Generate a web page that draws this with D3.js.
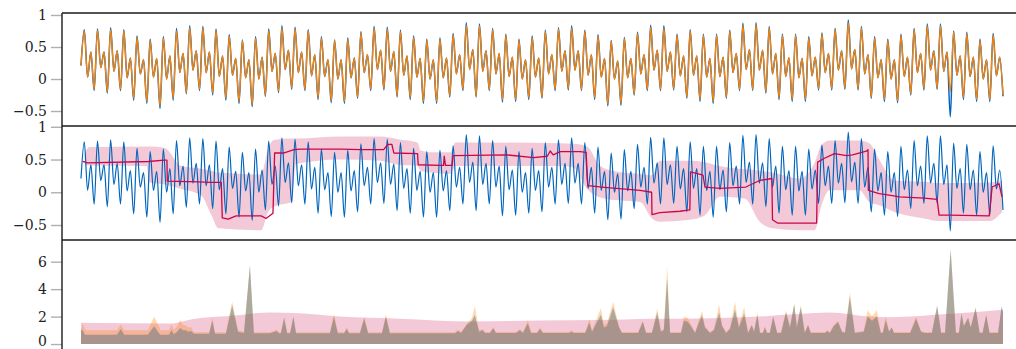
<!DOCTYPE html>
<html>
<head>
<meta charset="utf-8">
<script src="https://cdn.jsdelivr.net/npm/d3@7"></script>
<style>
  body { margin: 0; background: #fff; }
  svg { display: block; }
</style>
</head>
<body>
<svg id="chart" width="1016" height="349"></svg>
<script>
// ---- signal: one quasi-periodic cycle = crest, dip, bump, trough ----
const signalStart = 0.21;
const crest = [0.77,0.78,0.80,0.77,0.67,0.62,0.66,0.79,0.83,0.82,0.78,0.69,0.61,0.66,0.78,0.83,0.81,0.77,0.66,0.61,
  0.64,0.74,0.82,0.81,0.76,0.67,0.62,0.64,0.71,0.88,0.86,0.79,0.70,0.62,0.67,0.76,0.80,0.83,0.76,0.69,0.60,0.65,0.73,0.84,0.83,0.70,
  0.77,0.70,0.70,0.76,0.87,0.88,0.82,0.70,0.70,0.66,0.72,0.79,0.92,0.82,0.66,0.62,0.70,0.79,0.86,0.86,0.75,0.73,0.62,0.71];
const dip = [0.03,0.18,0.12,0.02,0.08,0.03,0.00,0.10,0.14,0.10,0.04,0.06,0.02,0.00,0.12,0.15,0.10,0.05,0.04,0.00,
  0.02,0.10,0.15,0.12,0.06,0.03,0.00,0.02,0.08,0.15,0.12,0.08,0.04,0.00,0.03,0.08,0.12,0.14,0.06,0.03,0.00,0.02,0.08,0.14,0.12,0.05,
  0.06,0.03,0.04,0.10,0.15,0.14,0.08,0.04,0.02,0.05,0.10,0.14,0.16,0.08,0.02,0.00,0.04,0.10,0.14,0.12,0.06,0.04,0.00,0.05];
const bump = [0.42,0.42,0.44,0.33,0.30,0.32,0.36,0.40,0.44,0.42,0.36,0.32,0.30,0.34,0.40,0.45,0.42,0.38,0.30,0.30,
  0.33,0.38,0.45,0.43,0.36,0.32,0.30,0.33,0.38,0.46,0.44,0.40,0.34,0.30,0.33,0.38,0.44,0.44,0.38,0.32,0.28,0.32,0.38,0.45,0.42,0.36,
  0.36,0.32,0.34,0.40,0.46,0.45,0.40,0.33,0.32,0.34,0.40,0.44,0.46,0.38,0.30,0.30,0.34,0.40,0.44,0.42,0.36,0.34,0.30,0.34];
const trough = [-0.18,-0.22,-0.18,-0.33,-0.38,-0.46,-0.33,-0.23,-0.18,-0.25,-0.33,-0.38,-0.43,-0.27,-0.21,-0.16,-0.18,-0.32,-0.37,
  -0.38,-0.30,-0.18,-0.17,-0.28,-0.32,-0.38,-0.38,-0.28,-0.18,-0.28,-0.18,-0.36,-0.35,-0.32,-0.30,-0.18,-0.17,-0.18,-0.32,-0.42,-0.41,-0.25,-0.18,-0.18,-0.17,
  -0.30,-0.35,-0.38,-0.30,-0.18,-0.18,-0.22,-0.32,-0.35,-0.35,-0.17,-0.17,-0.16,-0.17,-0.30,-0.35,-0.37,-0.25,-0.17,-0.16,-0.59,-0.32,-0.35,-0.35,
  -0.27];

// ---- reconstruction of the signal ----
const reconStart = 0.21;
const reconCrest = [0.75,0.76,0.77,0.75,0.65,0.60,0.64,0.75,0.80,0.80,0.76,0.67,0.60,0.64,0.75,0.80,0.79,0.75,0.64,0.60,
  0.62,0.72,0.80,0.78,0.74,0.65,0.60,0.62,0.69,0.84,0.83,0.77,0.68,0.60,0.65,0.74,0.78,0.80,0.74,0.67,0.59,0.63,0.71,0.81,0.80,0.68,
  0.75,0.68,0.68,0.74,0.84,0.85,0.80,0.68,0.68,0.64,0.70,0.77,0.88,0.80,0.64,0.60,0.68,0.77,0.83,0.83,0.73,0.71,0.60,0.69];
const reconTrough = [-0.16,-0.20,-0.16,-0.30,-0.35,-0.42,-0.30,-0.21,-0.16,-0.22,-0.30,-0.35,-0.40,-0.25,-0.19,-0.14,-0.16,-0.29,-0.34,
  -0.35,-0.28,-0.16,-0.15,-0.26,-0.29,-0.35,-0.35,-0.26,-0.16,-0.26,-0.16,-0.33,-0.32,-0.29,-0.28,-0.16,-0.15,-0.16,-0.29,-0.39,-0.38,-0.23,-0.16,-0.16,-0.15,
  -0.28,-0.32,-0.35,-0.28,-0.16,-0.16,-0.20,-0.29,-0.32,-0.32,-0.15,-0.15,-0.14,-0.15,-0.28,-0.32,-0.34,-0.23,-0.15,-0.14,-0.20,-0.29,-0.32,-0.32,
  -0.25];

// ---- segment means (step line) and their spread band ----
const meanT = [0.5,2.0,20.5,25.3,26.1,26.2,35.6,39.6,42.6,42.9,44.7,47.1,54.7,56.2,58.3,58.8,61.7,64.7,66.8,78.9,85.0,91.9,93.2,94.4,95.0,
  102.2,102.4,109.2,110.1,110.3,110.7,112.7,113.0,129.5,137.4,141.6,142.5,143.4,145.5,151.6,153.4,153.9,159.8,169.8,173.3,
  173.4,175.8,181.9,184.9,185.1,188.9,189.5,194.0,201.9,206.1,209.8,210.0,211.5,223.4,223.7,225.8,228.8,232.5,234.3,238.5,
  239.0,239.1,242.4,246.4,248.5,256.1,260.0,260.6,263.6,275.8,276.7,278.8,279.7];
const meanV = [0.47,0.45,0.47,0.49,0.49,0.17,0.16,0.15,0.15,-0.39,-0.41,-0.36,-0.36,-0.40,-0.32,0.60,0.60,0.65,0.66,0.66,0.65,0.65,0.73,0.73,0.60,
  0.59,0.42,0.41,0.41,0.55,0.41,0.41,0.56,0.57,0.53,0.55,0.63,0.57,0.62,0.62,0.61,0.10,0.07,0.03,0.00,
  -0.34,-0.31,-0.29,-0.27,0.31,0.26,0.08,0.06,0.08,0.18,0.21,-0.42,-0.47,-0.47,0.46,0.52,0.59,0.56,0.57,0.63,
  0.65,0.03,-0.02,-0.05,-0.07,-0.09,-0.11,-0.35,-0.35,-0.36,0.08,0.13,-0.07];
const bandT = [1.1,2.6,19.9,20.8,25.3,30.5,36.5,39.6,41.7,54.7,56.8,58.6,63.8,65.3,78.9,91.0,96.2,102.2,103.1,106.2,112.2,113.7,118.3,145.5,149.5,
  153.7,157.7,162.2,169.8,173.4,175.8,184.9,189.5,194.0,201.6,206.1,210.0,218.2,222.8,224.9,227.3,236.4,239.4,242.4,247.0,256.1,260.6,275.8,279.7];
const bandHi = [0.60,0.69,0.70,0.70,0.68,0.40,0.36,0.33,0.30,0.27,0.66,0.80,0.82,0.82,0.85,0.85,0.81,0.76,0.64,0.61,0.61,0.76,0.76,0.75,0.74,
  0.70,0.40,0.32,0.28,0.26,0.48,0.48,0.46,0.40,0.35,0.33,0.30,0.21,0.45,0.72,0.79,0.79,0.75,0.50,0.18,0.16,0.14,0.15,0.18];
const bandLo = [0.42,0.41,0.40,0.15,0.12,0.05,-0.05,-0.35,-0.55,-0.58,-0.30,-0.22,-0.15,0.43,0.50,0.48,0.42,0.40,0.33,0.30,0.28,0.40,0.40,0.40,0.38,
  0.05,-0.08,-0.12,-0.15,-0.40,-0.45,-0.42,-0.35,-0.07,-0.10,-0.45,-0.55,-0.58,-0.58,-0.20,0.03,0.03,-0.15,-0.20,-0.30,-0.40,-0.44,-0.44,-0.30];

// ---- local energy: measured, reconstructed and smoothed reference ----
const energy = [[0,1.0],[0.5,1.0],[1.2,0.68],[10.9,0.68],[12.1,1.1],[13.1,0.68],[20.3,0.68],[22.2,1.3],[24.0,0.68],
  [26.7,0.68],[27.5,1.0],[28.2,0.72],[29.2,0.9],[30.1,1.17],[31.0,1.0],[31.9,1.0],[32.5,0.9],[33.4,0.95],[34.3,0.76],
  [38.9,0.76],[39.9,1.7],[40.7,0.76],[44.0,0.76],[45.9,2.83],[47.7,0.9],[49.5,0.8],[51.3,5.7],[52.5,0.78],
  [57.4,0.78],[59.4,0.95],[60.1,0.78],[60.7,0.78],[61.7,1.9],[62.6,0.78],[63.5,0.78],[64.5,1.98],[65.3,0.78],
  [75.6,0.78],[76.8,1.98],[78.0,0.78],[79.9,0.78],[80.7,1.1],[81.4,0.78],[84.7,0.78],[86.0,1.85],[87.2,0.78],
  [91.4,0.78],[92.6,2.0],[93.8,0.78],[113.6,0.78],[114.5,0.95],[115.4,0.8],[117.2,1.4],[118.7,1.7],[119.6,2.1],
  [120.9,0.9],[122.0,1.0],[122.7,0.8],[124.2,0.8],[125.2,1.15],[126.0,0.8],[132.1,0.8],[133.3,1.0],[134.2,0.8],
  [135.7,1.5],[136.7,0.8],[138.5,0.8],[139.4,1.1],[140.3,0.8],[148.2,0.8],[149.0,0.9],[149.7,0.8],
  [153.1,0.8],[154.4,1.56],[155.2,0.9],[156.7,1.6],[157.9,2.13],[158.8,1.2],[159.7,1.3],[161.6,2.66],[163.4,1.2],[164.3,0.8],
  [169.2,0.8],[170.6,1.6],[171.6,0.8],[173.4,0.8],[175.0,2.3],[176.1,0.9],[177.0,1.0],[178.0,4.8],[178.9,0.8],
  [182.2,0.8],[183.1,1.7],[184.3,1.6],[185.5,1.2],[186.5,0.8],[187.4,1.4],[188.6,2.1],[189.5,1.2],[191.0,0.8],
  [192.2,1.0],[193.8,2.3],[194.7,1.3],[195.9,0.8],[197.1,1.1],[198.6,2.5],[199.8,1.2],[201.4,2.2],[202.6,0.8],
  [203.7,1.37],[204.4,0.9],[205.4,2.1],[206.2,0.8],[207.1,0.8],[207.7,1.2],[208.3,0.8],[209.2,0.8],[210.2,1.98],
  [211.4,0.8],[212.6,0.8],[214.1,2.3],[215.3,1.2],[216.6,2.88],[217.4,1.2],[218.6,2.7],[219.8,0.8],[220.8,1.37],[221.6,0.8],
  [225.9,0.8],[226.7,0.95],[227.4,0.8],[228.6,1.3],[229.9,1.6],[231.1,0.9],[232.0,0.8],[233.5,3.44],[235.0,0.8],
  [237.7,0.9],[238.9,2.0],[240.2,1.7],[241.7,2.0],[242.9,0.8],[243.5,0.8],[244.4,1.73],[245.4,0.9],[246.2,1.2],[246.9,0.8],
  [251.8,0.8],[253.6,1.85],[255.1,0.9],[256.3,0.8],[258.4,0.8],[260.0,2.78],[261.2,0.8],[262.4,0.8],[264.1,6.85],
  [265.7,0.8],[266.6,0.8],[267.4,2.2],[268.1,1.3],[269.4,1.9],[270.2,1.2],[271.7,2.63],[272.9,0.8],[273.8,0.8],
  [274.9,2.1],[275.9,0.8],[278.5,0.8],[279.6,2.75],[280,2.3]];
const energyRecon = [[0,1.0],[0.5,1.5],[1.4,1.0],[10.9,1.0],[12.1,1.45],[13.1,1.0],[20.3,1.0],[22.2,2.0],[24.2,1.0],
  [26.7,1.0],[27.5,1.45],[28.2,1.05],[29.2,1.3],[30.1,1.76],[31.0,1.4],[31.9,1.35],[32.5,1.2],[33.4,1.25],[34.3,0.86],
  [38.9,0.86],[39.9,1.9],[40.7,0.86],[44.0,0.86],[45.9,3.1],[47.7,1.0],[49.5,0.9],[51.3,5.76],[52.5,0.86],
  [57.4,0.86],[59.4,1.05],[60.1,0.86],[60.7,0.86],[61.7,1.95],[62.6,0.86],[63.5,0.86],[64.5,2.05],[65.3,0.86],
  [75.6,0.86],[76.8,2.2],[78.0,0.86],[79.9,0.86],[80.7,1.25],[81.4,0.86],[84.7,0.86],[86.0,2.0],[87.2,0.86],
  [91.4,0.86],[92.6,2.15],[93.8,0.86],[113.6,0.86],[114.5,1.05],[115.4,0.88],[117.2,1.5],[118.7,1.9],[119.6,2.78],
  [120.9,1.0],[122.0,1.1],[122.7,0.88],[124.2,0.88],[125.2,1.25],[126.0,0.88],[132.1,0.88],[133.3,1.1],[134.2,0.88],
  [135.7,1.73],[136.7,0.88],[138.5,0.88],[139.4,1.2],[140.3,0.88],[148.2,0.88],[149.0,1.0],[149.7,0.88],
  [153.1,0.88],[154.4,1.85],[155.2,1.0],[156.7,1.9],[157.9,2.6],[158.8,1.4],[159.7,1.5],[161.6,3.07],[163.4,1.3],[164.3,0.88],
  [169.2,0.88],[170.6,1.7],[171.6,0.88],[173.4,0.88],[175.0,2.6],[176.1,1.0],[177.0,1.1],[178.0,5.7],[178.9,0.88],
  [182.2,0.88],[183.1,2.0],[184.3,1.9],[185.5,1.3],[186.5,0.88],[187.4,1.6],[188.6,2.4],[189.5,1.3],[191.0,0.88],
  [192.2,1.1],[193.8,2.9],[194.7,1.4],[195.9,0.88],[197.1,1.2],[198.6,3.1],[199.8,1.3],[201.4,2.7],[202.6,0.88],
  [203.7,1.45],[204.4,0.95],[205.4,2.34],[206.2,0.88],[207.1,0.88],[207.7,1.3],[208.3,0.88],[209.2,0.88],[210.2,2.05],
  [211.4,0.88],[212.6,0.88],[214.1,2.46],[215.3,1.3],[216.6,2.95],[217.4,1.3],[218.6,2.8],[219.8,0.88],[220.8,1.45],[221.6,0.88],
  [225.9,0.88],[226.7,1.0],[227.4,0.88],[228.6,1.4],[229.9,1.7],[231.1,0.95],[232.0,0.88],[233.5,3.76],[235.0,0.88],
  [237.7,0.95],[238.9,2.46],[240.2,2.0],[241.7,2.46],[242.9,0.88],[243.5,0.88],[244.4,2.05],[245.4,0.95],[246.2,1.25],[246.9,0.88],
  [251.8,0.88],[253.6,2.0],[255.1,0.95],[256.3,0.88],[258.4,0.88],[260.0,2.8],[261.2,0.88],[262.4,0.88],[264.1,6.9],
  [265.7,0.88],[266.6,0.88],[267.4,2.25],[268.1,1.35],[269.4,1.95],[270.2,1.25],[271.7,2.65],[272.9,0.88],[273.8,0.88],
  [274.9,2.15],[275.9,0.88],[278.5,0.88],[279.6,2.7],[280,2.25]];
const energyRef = [[0,1.55],[27,1.5],[34.6,1.85],[45.2,2.05],[57.4,2.3],[66.5,2.25],[78.7,2.0],[96.9,1.85],[118.1,1.65],
  [139.4,1.72],[157.6,1.75],[172.8,1.85],[187.9,1.87],[206.2,2.0],[218.3,2.2],[227.4,2.3],[239.6,2.0],[245.7,1.95],
  [263.9,2.2],[280,2.5]];

// ---- tick values per panel ----
const signalTicks = [-0.5, 0, 0.5, 1];
const energyTicks = [0, 2, 4, 6];

// ---- colours ----
const BLUE = "#0065bd", ORANGE = "#ff8200", CRIMSON = "#c8074b";

function cycles(start, c, d, b, t) {
  const out = [start];
  c.forEach((v, k) => out.push(v, d[k], b[k], t[k]));
  return out.map((v, i) => [i, v]);
}
const signal = cycles(signalStart, crest, dip, bump, trough);
const recon = cycles(reconStart, reconCrest, dip, bump, reconTrough);
const means = meanT.map((t, i) => [t, meanV[i]]);
const band = bandT.map((t, i) => [t, bandHi[i], bandLo[i]]);

const svg = d3.select("#chart");
const left = 62, right = 1016;
const x = d3.scaleLinear().domain([0, 280]).range([81, 1003]);

const panels = [
  { top: 13, bottom: 126, y: d3.scaleLinear().domain([-0.734, 1.031]).range([126, 13]), ticks: signalTicks },
  { top: 126, bottom: 240, y: d3.scaleLinear().domain([-0.729, 1.012]).range([240, 126]), ticks: signalTicks },
  { top: 240, bottom: 349, y: d3.scaleLinear().domain([-0.36, 7.58]).range([349, 240]), ticks: energyTicks }
];

const defs = svg.append("defs");
panels.forEach((p, i) => {
  defs.append("clipPath").attr("id", "clip" + i)
    .append("rect").attr("x", left).attr("y", p.top).attr("width", right - left).attr("height", p.bottom - p.top);
  p.g = svg.append("g").attr("clip-path", `url(#clip${i})`);
});

// panel 1: signal and reconstruction
{
  const p = panels[0];
  const line = d3.line().x(d => x(d[0])).y(d => p.y(d[1])).curve(d3.curveMonotoneX);
  p.g.append("path").datum(signal).attr("d", line).attr("fill", "none")
    .attr("stroke", BLUE).attr("stroke-width", 1.5).attr("stroke-linejoin", "round");
  p.g.append("path").datum(recon).attr("d", line).attr("fill", "none")
    .attr("stroke", ORANGE).attr("stroke-width", 1.3).attr("stroke-linejoin", "round");
}

// panel 2: signal with segment means and spread
{
  const p = panels[1];
  const area = d3.area().x(d => x(d[0])).y0(d => p.y(d[2])).y1(d => p.y(d[1])).curve(d3.curveMonotoneX);
  p.g.append("path").datum(band).attr("d", area).attr("fill", CRIMSON).attr("fill-opacity", 0.22);
  const line = d3.line().x(d => x(d[0])).y(d => p.y(d[1])).curve(d3.curveMonotoneX);
  p.g.append("path").datum(signal).attr("d", line).attr("fill", "none")
    .attr("stroke", BLUE).attr("stroke-width", 1.2).attr("stroke-linejoin", "round");
  const step = d3.line().x(d => x(d[0])).y(d => p.y(d[1]));
  p.g.append("path").datum(means).attr("d", step).attr("fill", "none")
    .attr("stroke", CRIMSON).attr("stroke-width", 1.3).attr("stroke-linejoin", "round");
}

// panel 3: energies
{
  const p = panels[2];
  const smooth = d3.area().x(d => x(d[0])).y0(p.y(0)).y1(d => p.y(d[1])).curve(d3.curveMonotoneX);
  const sharp = d3.area().x(d => x(d[0])).y0(p.y(0)).y1(d => p.y(d[1]));
  p.g.append("path").datum(energyRef).attr("d", smooth).attr("fill", CRIMSON).attr("fill-opacity", 0.22);
  p.g.append("path").datum(energy).attr("d", sharp).attr("fill", BLUE).attr("fill-opacity", 0.45);
  p.g.append("path").datum(energyRecon).attr("d", sharp).attr("fill", ORANGE).attr("fill-opacity", 0.3);
}

// axes
panels.forEach((p, i) => {
  const g = svg.append("g").attr("transform", `translate(${left},0)`)
    .call(d3.axisLeft(p.y).tickValues(p.ticks).tickSize(11).tickPadding(4).tickFormat(d3.format("")));
  g.select(".domain").remove();
  g.selectAll(".tick line").attr("stroke", "#b0b0b0").attr("stroke-width", 1.4);
  g.selectAll(".tick text").attr("font-family", "DejaVu Serif").attr("font-size", 14).attr("fill", "#222");
  // the lowest label sits on the lower edge of the figure; lift it so it stays whole
  if (i === 2) g.selectAll(".tick text").filter(d => d === 0).attr("dy", "0.12em");
});

// frames
const frame = svg.append("g").attr("stroke", "#1a1a1a").attr("stroke-width", 1.4).attr("fill", "none");
panels.forEach(p => {
  frame.append("line").attr("x1", left).attr("x2", right).attr("y1", p.top).attr("y2", p.top);
});
frame.append("line").attr("x1", left).attr("x2", left).attr("y1", panels[0].top).attr("y2", 349);
</script>
</body>
</html>
